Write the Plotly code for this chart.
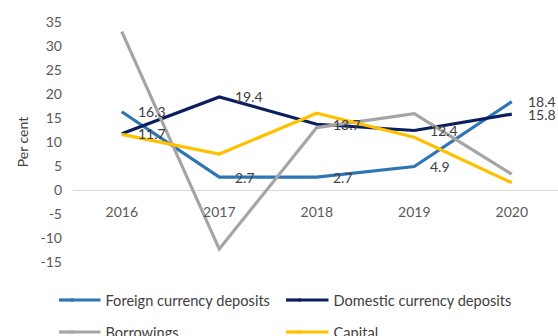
import plotly.graph_objects as go

years = ["2016", "2017", "2018", "2019", "2020"]
foreign_deposits = [16.3, 2.7, 2.7, 4.9, 18.4]
domestic_deposits = [11.7, 19.4, 13.7, 12.4, 15.8]
borrowings = [33.0, -12.3, 13.0, 15.9, 3.3]
capital = [11.6, 7.5, 16.0, 11.0, 1.5]

y_ticks = [35, 30, 25, 20, 15, 10, 5, 0, -5, -10, -15]

FONT = "Lato"
TEXT_GREY = "#595959"
LABEL_GREY = "#404040"

series = [
    ("Foreign currency deposits", foreign_deposits, "#2E75B6", "legend", True),
    ("Domestic currency deposits", domestic_deposits, "#0B1F5E", "legend", True),
    ("Borrowings", borrowings, "#A5A5A5", "legend2", False),
    ("Capital", capital, "#FFC000", "legend2", False),
]

y_range = [-15, 35]

# figure geometry (pixels)
W, H = 558, 336
M_L, M_R, M_T, M_B = 73, 0, 22, 74
PLOT_W = W - M_L - M_R
PLOT_H = H - M_T - M_B


def px_to_paper_x(px):
    return (px - M_L) / PLOT_W


def px_to_paper_y(py):
    return (H - M_B - py) / PLOT_H


LINE_W = 3.2
LEGEND_X_PX = 65.5          # left edge of legend boxes
LEGEND_ROWS_PX = {"legend": 300, "legend2": 332}
COL_STEP_PX = 227

fig = go.Figure()
for name, vals, color, legend, labelled in series:
    fig.add_trace(go.Scatter(
        x=years, y=vals, name=name, mode="lines",
        line=dict(color=color, width=LINE_W),
        legend=legend,
    ))

# value labels for the two deposit series (placed by category index)
for name, vals, color, legend, labelled in series:
    if not labelled:
        continue
    for i, v in enumerate(vals):
        fig.add_annotation(
            x=i, y=v, xref="x", yref="y", text=f"{v:.1f}", showarrow=False,
            xanchor="left", yanchor="middle", xshift=14,
            font=dict(family=FONT, size=14, color=LABEL_GREY),
        )

# longer legend keys: extend each legend line to the left
col_index = {"legend": 0, "legend2": 0}
for name, vals, color, legend, labelled in series:
    col = col_index[legend]
    col_index[legend] += 1
    x_start = LEGEND_X_PX + 6.5 + col * COL_STEP_PX
    fig.add_shape(
        type="line", xref="paper", yref="paper",
        x0=px_to_paper_x(x_start - 13), x1=px_to_paper_x(x_start + 2),
        y0=px_to_paper_y(LEGEND_ROWS_PX[legend]), y1=px_to_paper_y(LEGEND_ROWS_PX[legend]),
        line=dict(color=color, width=LINE_W),
    )

legend_common = dict(
    orientation="h", xanchor="left", yanchor="middle",
    entrywidth=COL_STEP_PX - 44, entrywidthmode="pixels",
    font=dict(family=FONT, size=14.6, color=LABEL_GREY),
    bgcolor="rgba(0,0,0,0)",
)

fig.update_layout(
    width=W, height=H,
    margin=dict(l=M_L, r=M_R, t=M_T, b=M_B, autoexpand=False),
    paper_bgcolor="white", plot_bgcolor="white",
    font=dict(family=FONT, size=14, color=TEXT_GREY),
    showlegend=True,
    legend=dict(x=px_to_paper_x(LEGEND_X_PX), y=px_to_paper_y(LEGEND_ROWS_PX["legend"]), **legend_common),
    legend2=dict(x=px_to_paper_x(LEGEND_X_PX), y=px_to_paper_y(LEGEND_ROWS_PX["legend2"]), **legend_common),
    xaxis=dict(
        type="category", range=[-0.5, 4.474],
        anchor="free", position=(0 - y_range[0]) / (y_range[1] - y_range[0]),
        showline=False, showgrid=False, zeroline=False,
        ticks="", ticklabelstandoff=12,
        tickfont=dict(family=FONT, size=14, color=TEXT_GREY),
    ),
    yaxis=dict(
        range=y_range, tickvals=y_ticks, ticktext=[str(t) for t in y_ticks],
        showgrid=False, zeroline=True, zerolinecolor="#D9D9D9", zerolinewidth=1.3,
        showline=False, ticks="", ticklabelstandoff=10,
        tickfont=dict(family=FONT, size=14, color=TEXT_GREY),
        title=dict(text="Per cent", font=dict(family=FONT, size=14, color=LABEL_GREY), standoff=8),
    ),
)

fig.write_html("out.html")
